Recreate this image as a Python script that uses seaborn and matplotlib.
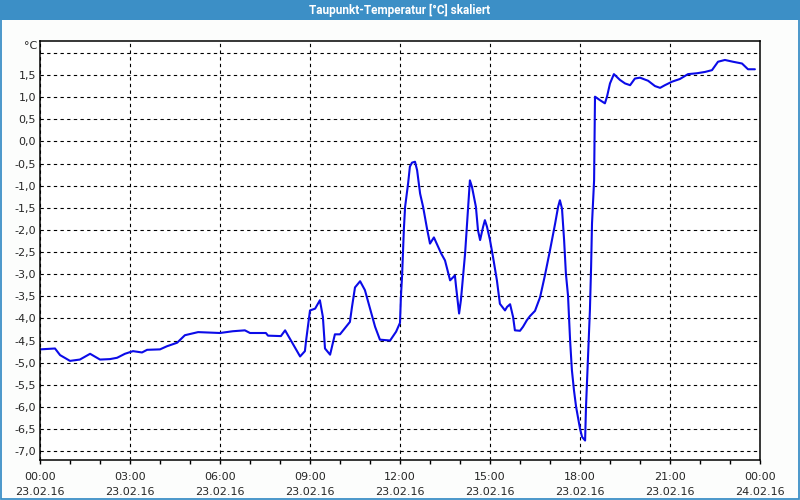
import matplotlib
matplotlib.use("Agg")
import matplotlib.pyplot as plt
from matplotlib.patches import Rectangle
import seaborn as sns
import pandas as pd
import numpy as np

# ---- data (hours since 23.02.16 00:00, dew point in °C) ----
hours = [0.00, 0.50, 0.67, 1.00, 1.33, 1.67, 2.00, 2.33, 2.57, 2.83, 3.10, 3.40, 3.57,
         4.00, 4.23, 4.57, 4.83, 5.27, 6.00, 6.43, 6.83, 7.00, 7.53, 7.60, 8.03, 8.17,
         8.67, 8.83, 8.87, 9.00, 9.17, 9.33, 9.43, 9.50, 9.67, 9.83, 10.00, 10.33, 10.40,
         10.50, 10.67, 10.83, 11.17, 11.33, 11.67, 11.87, 12.00, 12.03, 12.07, 12.10,
         12.13, 12.17, 12.27, 12.33, 12.40, 12.50, 12.57, 12.67, 12.77, 12.90, 13.00,
         13.13, 13.27, 13.37, 13.50, 13.67, 13.83, 13.87, 13.97, 14.03, 14.17, 14.27,
         14.33, 14.40, 14.53, 14.60, 14.67, 14.77, 14.83, 14.90, 15.00, 15.10, 15.23,
         15.33, 15.50, 15.57, 15.67, 15.77, 15.83, 16.00, 16.10, 16.23, 16.33, 16.50,
         16.67, 16.83, 17.00, 17.17, 17.27, 17.33, 17.40, 17.47, 17.53, 17.60, 17.67,
         17.73, 17.80, 17.87, 17.93, 18.00, 18.07, 18.17, 18.20, 18.27, 18.33, 18.37,
         18.40, 18.47, 18.50, 18.67, 18.83, 18.90, 19.00, 19.13, 19.33, 19.50, 19.67,
         19.83, 20.00, 20.27, 20.50, 20.67, 20.83, 21.07, 21.33, 21.60, 21.90, 22.17,
         22.40, 22.60, 22.83, 23.10, 23.40, 23.60, 23.83]
dewpoint = [-4.70, -4.68, -4.83, -4.96, -4.93, -4.80, -4.93, -4.92, -4.89, -4.80, -4.74,
            -4.77, -4.71, -4.70, -4.63, -4.55, -4.38, -4.31, -4.33, -4.29, -4.27, -4.33,
            -4.33, -4.39, -4.40, -4.27, -4.86, -4.74, -4.50, -3.82, -3.78, -3.59, -3.97,
            -4.68, -4.82, -4.36, -4.36, -4.08, -3.74, -3.30, -3.16, -3.36, -4.19, -4.48,
            -4.50, -4.30, -4.10, -3.52, -3.03, -2.53, -1.97, -1.48, -0.95, -0.57, -0.48,
            -0.46, -0.65, -1.18, -1.48, -1.97, -2.31, -2.17, -2.38, -2.53, -2.69, -3.14,
            -3.03, -3.29, -3.89, -3.59, -2.53, -1.48, -0.88, -1.03, -1.48, -2.01, -2.23,
            -1.93, -1.78, -1.93, -2.23, -2.61, -3.14, -3.67, -3.82, -3.74, -3.68, -3.97,
            -4.27, -4.28, -4.19, -4.04, -3.95, -3.83, -3.52, -3.03, -2.46, -1.86, -1.48,
            -1.33, -1.52, -2.23, -2.99, -3.48, -4.50, -5.17, -5.63, -6.00, -6.23, -6.49,
            -6.68, -6.76, -6.00, -4.80, -3.82, -2.84, -1.86, -0.88, 1.01, 0.93, 0.86,
            1.01, 1.31, 1.52, 1.39, 1.31, 1.27, 1.42, 1.44, 1.37, 1.25, 1.21, 1.27, 1.35,
            1.41, 1.52, 1.54, 1.57, 1.61, 1.80, 1.84, 1.80, 1.76, 1.63, 1.63]

x_ticks = [0, 3, 6, 9, 12, 15, 18, 21, 24]
x_tick_labels = ["00:00\n23.02.16", "03:00\n23.02.16", "06:00\n23.02.16",
                 "09:00\n23.02.16", "12:00\n23.02.16", "15:00\n23.02.16",
                 "18:00\n23.02.16", "21:00\n23.02.16", "00:00\n24.02.16"]
y_ticks = [-7.0, -6.5, -6.0, -5.5, -5.0, -4.5, -4.0, -3.5, -3.0, -2.5, -2.0, -1.5,
           -1.0, -0.5, 0.0, 0.5, 1.0, 1.5, 2.0]
y_tick_labels = ["-7,0", "-6,5", "-6,0", "-5,5", "-5,0", "-4,5", "-4,0", "-3,5",
                 "-3,0", "-2,5", "-2,0", "-1,5", "-1,0", "-0,5", "0,0", "0,5",
                 "1,0", "1,5", ""]
title = "Taupunkt-Temperatur [°C] skaliert"
unit = "°C"

df = pd.DataFrame({"h": hours, "v": dewpoint})

sns.set_style("white")
plt.rcParams["font.family"] = ["DejaVu Sans"]
plt.rcParams["axes.unicode_minus"] = False

fig = plt.figure(figsize=(8, 5), dpi=100, facecolor="#fcfdfc")
ax = fig.add_axes([0.05, 0.08, 0.90, 0.839])
ax.set_facecolor("white")

sns.lineplot(data=df, x="h", y="v", ax=ax, color="#0b0be8", linewidth=1.5,
             sort=False, estimator=None)

ax.set_xlim(0, 24)
ax.set_ylim(-7.2, 2.28)
ax.set_xticks(x_ticks)
ax.set_xticklabels(x_tick_labels, fontsize=8, linespacing=1.55)
ax.set_xticks(np.arange(0, 25, 1), minor=True)
ax.set_yticks(y_ticks)
ax.set_yticklabels(y_tick_labels, fontsize=8)
ax.tick_params(axis="x", which="both", direction="out", length=3, width=1,
               color="black", pad=6, bottom=True)
ax.tick_params(axis="y", length=0, pad=3)
ax.set_xlabel("")
ax.set_ylabel("")

ax.grid(True, which="major", color="black", linestyle=(0, (3, 3)), linewidth=0.8)
for s in ax.spines.values():
    s.set_color("black")
    s.set_linewidth(1.1)
    s.set_visible(True)

# unit label
fig.text(37 / 800, 1 - 46 / 500, unit, ha="right", va="center", fontsize=8)

# title bar
fig.patches.append(Rectangle((0, 1 - 20 / 500), 1, 20 / 500, transform=fig.transFigure,
                             facecolor="#3c8fc6", edgecolor="none", zorder=0))
fig.text(0.5, 1 - 10 / 500, title, ha="center", va="center", color="white",
         fontsize=8.5, fontweight="bold", family=["Roboto", "DejaVu Sans"])
# window border
fig.patches.append(Rectangle((0.0008, 0.0012), 0.9984, 0.96, transform=fig.transFigure,
                             facecolor="none", edgecolor="#3c8fc6", linewidth=1.3, zorder=0))

fig.savefig("out.png", dpi=100, facecolor=fig.get_facecolor())
